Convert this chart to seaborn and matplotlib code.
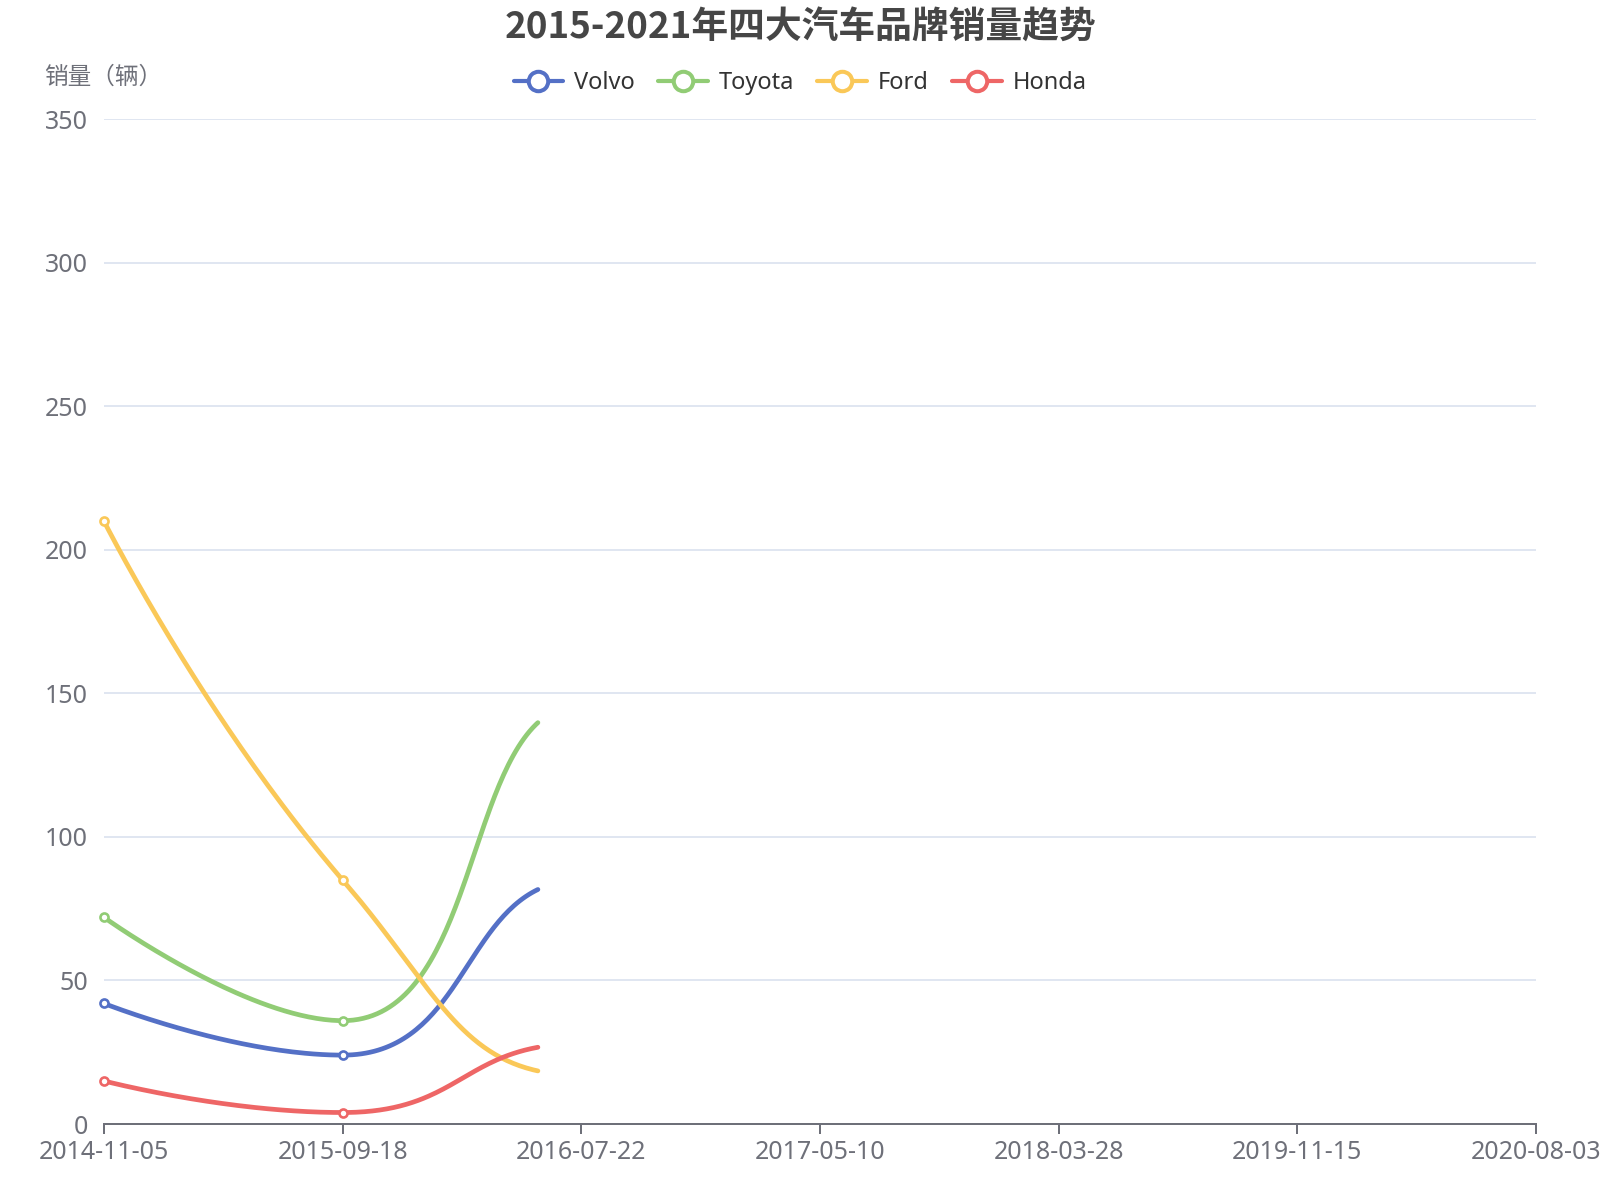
import numpy as np
import pandas as pd
import seaborn as sns
import matplotlib
matplotlib.use("Agg")
import matplotlib.pyplot as plt
from matplotlib.lines import Line2D

# 数据
dates = ["2014-11-05", "2015-09-18", "2016-07-22", "2017-05-10",
         "2018-03-28", "2019-11-15", "2020-08-03"]
brands = ["Volvo", "Toyota", "Ford", "Honda"]
volvo = [42, 24, 85]
toyota = [72, 36, 146]
ford = [210, 85, 17]
honda = [15, 4, 28]
colors = ["#5470c6", "#91cc75", "#fac858", "#ee6666"]
y_ticks = [0, 50, 100, 150, 200, 250, 300, 350]
shown_upto = 1.818  # in the original the lines were only drawn up to here

title = "2015-2021年四大汽车品牌销量趋势"
y_name = "销量（辆）"

sns.set_theme(style="white")
plt.rcParams["font.family"] = ["Noto Sans", "Noto Sans CJK SC", "DejaVu Sans"]
cjk = ["Noto Sans CJK SC", "DejaVu Sans"]


def smooth_path(px, py, smooth=0.5, n=80):
    # bezier smoothing like echarts, done in pixel space
    pts = list(zip(px, py))
    m = len(pts)
    cin = [None] * m
    cout = [None] * m
    cout[0] = pts[0]
    for i in range(1, m):
        x, y = pts[i]
        x0, y0 = pts[i - 1]
        if i == m - 1:
            # series turns at this point -> flat tangent
            cin[i] = (x - (x - x0) * smooth, y)
            break
        x2, y2 = pts[i + 1]
        l0 = np.hypot(x - x0, y - y0)
        l1 = np.hypot(x2 - x, y2 - y)
        r = l1 / (l0 + l1)
        nx = x + (x2 - x0) * smooth * r
        ny = y + (y2 - y0) * smooth * r
        nx = min(max(nx, min(x, x2)), max(x, x2))
        ny = min(max(ny, min(y, y2)), max(y, y2))
        cx = x - (nx - x) * l0 / l1
        cy = y - (ny - y) * l0 / l1
        cx = min(max(cx, min(x0, x)), max(x0, x))
        cy = min(max(cy, min(y0, y)), max(y0, y))
        cin[i] = (cx, cy)
        cout[i] = (x + (x - cx) * l1 / l0, y + (y - cy) * l1 / l0)
    t = np.linspace(0, 1, n)[:, None]
    segs = []
    for i in range(m - 1):
        p0, p1 = np.array(pts[i]), np.array(cout[i])
        p2, p3 = np.array(cin[i + 1]), np.array(pts[i + 1])
        b = (1 - t) ** 3 * p0 + 3 * (1 - t) ** 2 * t * p1 + 3 * (1 - t) * t ** 2 * p2 + t ** 3 * p3
        segs.append(b if i == 0 else b[1:])
    return np.vstack(segs)


fig = plt.figure(figsize=(16, 12), dpi=100)
ax = fig.add_axes([104 / 1600, 76 / 1200, 1432 / 1600, 1004.6 / 1200])
ax.set_xlim(0, len(dates) - 1)
ax.set_ylim(0, 350)

rows = []
series = [volvo, toyota, ford, honda]
for name, vals in zip(brands, series):
    xs = np.arange(len(vals))
    disp = ax.transData.transform(np.column_stack([xs, vals]))
    path = smooth_path(disp[:, 0], disp[:, 1])
    data = ax.transData.inverted().transform(path)
    keep = data[:, 0] <= shown_upto
    px, py = data[keep, 0], data[keep, 1]
    end_y = np.interp(shown_upto, data[:, 0], data[:, 1])
    px = np.append(px, shown_upto)
    py = np.append(py, end_y)
    rows.append(pd.DataFrame({"x": px, "y": py, "brand": name}))
df = pd.concat(rows, ignore_index=True)

sns.lineplot(data=df, x="x", y="y", hue="brand", hue_order=brands, palette=colors,
             sort=False, estimator=None, lw=3.4, legend=False, ax=ax, zorder=3)

for vals, c in zip(series, colors):
    xs = [i for i in range(len(vals)) if i <= shown_upto]
    ax.plot(xs, [vals[i] for i in xs], ls="none", marker="o", ms=5.8, mfc="white",
            mec=c, mew=1.9, zorder=4, clip_on=False)

ax.set_xticks(range(len(dates)))
ax.set_xticklabels(dates)
ax.set_yticks(y_ticks)
ax.set_xlabel("")
ax.set_ylabel("")
for s in ["left", "top", "right"]:
    ax.spines[s].set_visible(False)
ax.spines["bottom"].set_color("#6E7079")
ax.spines["bottom"].set_linewidth(1.44)
ax.yaxis.grid(True, color="#E0E6F1", lw=1.44)
ax.xaxis.grid(False)
ax.set_axisbelow(True)
ax.tick_params(axis="x", length=7, width=1.44, color="#6E7079", labelsize=18,
               labelcolor="#6E7079", pad=4.5, bottom=True)
ax.tick_params(axis="y", length=0, labelsize=18, labelcolor="#6E7079", pad=11.5)

fig.text(0.5, 1 - 27 / 1200, title, ha="center", va="center", fontsize=26.5,
         fontweight="bold", color="#464646", family=cjk)
fig.text(44 / 1600, 1 - 77 / 1200, y_name, ha="left", va="center", fontsize=17,
         color="#6E7079", family=cjk)

handles = [Line2D([], [], color=c, lw=3.0, marker="o", ms=14, mfc="white", mec=c, mew=2.9)
           for c in colors]
fig.legend(handles, brands, loc="center", bbox_to_anchor=(0.5, 1 - 83 / 1200), ncol=4,
           frameon=False, fontsize=17, handlelength=2.1, handletextpad=0.45,
           columnspacing=1.0, labelcolor="#333333")

fig.savefig("out.png", dpi=100)
